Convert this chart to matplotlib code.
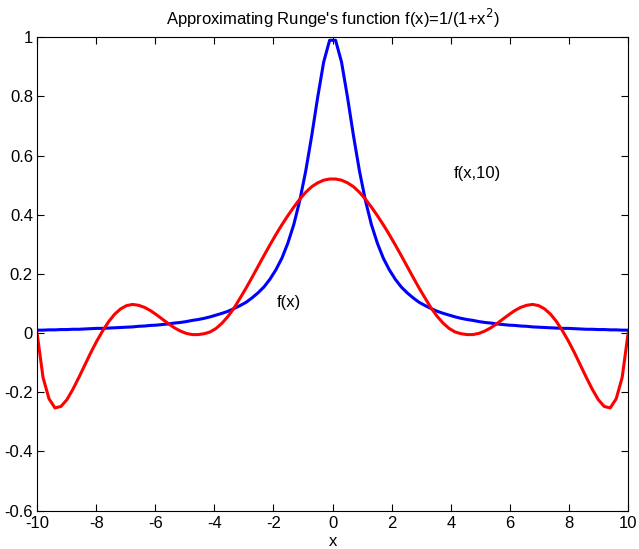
import numpy as np
import matplotlib
matplotlib.use('Agg')
import matplotlib.pyplot as plt

plt.rcParams['font.family'] = ['Liberation Sans', 'DejaVu Sans']

# 100 sample points on [-10, 10]
x = np.linspace(-10, 10, 100)

# Runge's function f(x)
f_exact = [0.010, 0.010, 0.011, 0.011, 0.012, 0.012, 0.013, 0.013, 0.014, 0.015,
           0.016, 0.016, 0.017, 0.018, 0.019, 0.020, 0.021, 0.023, 0.024, 0.026,
           0.027, 0.029, 0.031, 0.034, 0.036, 0.039, 0.043, 0.046, 0.050, 0.055,
           0.061, 0.067, 0.074, 0.083, 0.093, 0.104, 0.119, 0.136, 0.156, 0.182,
           0.214, 0.253, 0.304, 0.367, 0.448, 0.548, 0.667, 0.797, 0.916, 0.990,
           0.990, 0.916, 0.797, 0.667, 0.548, 0.448, 0.367, 0.304, 0.253, 0.214,
           0.182, 0.156, 0.136, 0.119, 0.104, 0.093, 0.083, 0.074, 0.067, 0.061,
           0.055, 0.050, 0.046, 0.043, 0.039, 0.036, 0.034, 0.031, 0.029, 0.027,
           0.026, 0.024, 0.023, 0.021, 0.020, 0.019, 0.018, 0.017, 0.016, 0.016,
           0.015, 0.014, 0.013, 0.013, 0.012, 0.012, 0.011, 0.011, 0.010, 0.010]

# approximation f(x,10)
f_approx = [0.000, -0.150, -0.222, -0.253, -0.248, -0.225, -0.190, -0.150, -0.108, -0.066,
            -0.027, 0.008, 0.039, 0.064, 0.082, 0.093, 0.097, 0.094, 0.087, 0.076,
            0.062, 0.047, 0.032, 0.018, 0.007, -0.001, -0.005, -0.005, -0.002, 0.004,
            0.016, 0.034, 0.057, 0.085, 0.118, 0.152, 0.188, 0.225, 0.262, 0.298,
            0.333, 0.366, 0.397, 0.426, 0.453, 0.476, 0.495, 0.508, 0.517, 0.521,
            0.521, 0.517, 0.508, 0.495, 0.476, 0.453, 0.426, 0.397, 0.366, 0.333,
            0.298, 0.262, 0.225, 0.188, 0.152, 0.118, 0.085, 0.057, 0.034, 0.016,
            0.004, -0.002, -0.005, -0.005, -0.001, 0.007, 0.018, 0.032, 0.047, 0.062,
            0.076, 0.087, 0.094, 0.097, 0.093, 0.082, 0.064, 0.039, 0.008, -0.027,
            -0.066, -0.108, -0.150, -0.190, -0.225, -0.248, -0.253, -0.222, -0.150, 0.000]

xticks = [-10, -8, -6, -4, -2, 0, 2, 4, 6, 8, 10]
yticks = [-0.6, -0.4, -0.2, 0, 0.2, 0.4, 0.6, 0.8, 1]
ytick_labels = ['-0.6', '-0.4', '-0.2', '0', '0.2', '0.4', '0.6', '0.8', '1']

fig = plt.figure(figsize=(6.39, 5.49), dpi=100)
ax = fig.add_axes([0.058, 0.070, 0.925, 0.862])

ax.plot(x, f_exact, color=(0, 0, 1), linewidth=2.2)
ax.plot(x, f_approx, color=(1, 0, 0), linewidth=2.2)

ax.text(-1.9, 0.103, 'f(x)', fontsize=12, va='center', ha='left')
ax.text(4.1, 0.54, 'f(x,10)', fontsize=12, va='center', ha='left')

ax.set_xlim(-10, 10)
ax.set_ylim(-0.6, 1)
ax.set_xticks(xticks)
ax.set_xticklabels([str(t) for t in xticks])
ax.set_yticks(yticks)
ax.set_yticklabels(ytick_labels)
ax.tick_params(direction='in', length=5, width=0.8, top=True, right=True,
               labelsize=12)
ax.tick_params(axis='x', pad=4)
ax.tick_params(axis='y', pad=3)
for s in ax.spines.values():
    s.set_linewidth(0.8)

ax.set_title("Approximating Runge's function f(x)=1/(1+x$^2$)", fontsize=12, pad=9)
ax.set_xlabel('x', fontsize=12, labelpad=2)

fig.savefig('out.png', dpi=100)
